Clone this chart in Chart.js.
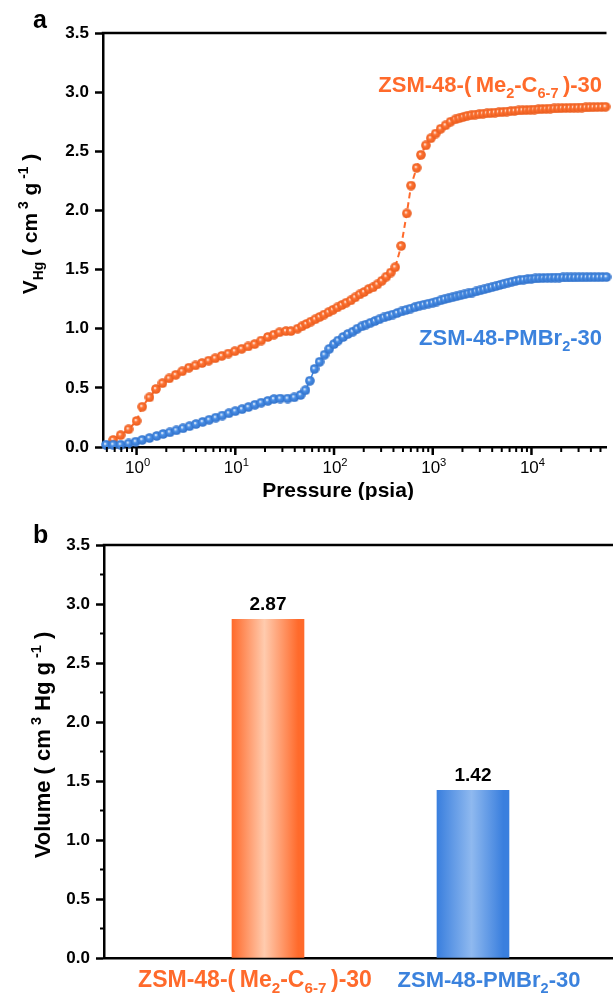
<!DOCTYPE html>
<html>
<head>
<meta charset="utf-8">
<title>Mercury intrusion</title>
<script src="https://cdn.jsdelivr.net/npm/chart.js@4.4.1/dist/chart.umd.min.js"></script>
<style>
  html, body { margin: 0; padding: 0; background: #fff; }
  #wrap { position: relative; width: 613px; height: 996px; overflow: hidden; }
  #chartA { position: absolute; left: 0; top: 0; }
  #chartB { position: absolute; left: 0; top: 500px; }
</style>
</head>
<body>
<div id="wrap">
  <canvas id="chartA" width="613" height="500"></canvas>
  <canvas id="chartB" width="613" height="496"></canvas>
</div>
<script>
// panel a - intrusion curves (pressure in psia, volume in cm3/g)
const orangeP = [0.58, 0.69, 0.83, 1.0, 1.14, 1.35, 1.57, 1.83, 2.14, 2.49,
  2.9, 3.39, 3.95, 4.6, 5.37, 6.26, 7.3, 8.5, 9.9,
  11.6, 13.5, 15.7, 18.3, 21.4, 24.6, 28, 32.6, 36.6,
  42.7, 47.3, 52.5, 58.2, 64.6, 71.6, 79.4, 88.1, 97.7, 108, 120, 133, 148, 164, 182, 202, 224, 248, 275, 305, 339, 376, 417,
  479, 546, 603, 687, 759, 851, 955, 1072, 1202, 1349, 1514, 1698,
  1862, 2042, 2239, 2455, 2692, 2951, 3236, 3548, 3890, 4266, 4677, 5129, 5623, 6166, 6761, 7413, 8128, 8913, 9772,
  10715, 11749, 12882, 14125, 15488, 16982, 18621, 20417, 22387, 24547, 26915, 29512, 32359, 35481, 38905, 42658, 46774, 51286, 56234];
const orangeV = [0.06, 0.10, 0.15, 0.22, 0.34, 0.42, 0.49, 0.54, 0.58, 0.61,
  0.64, 0.67, 0.69, 0.71, 0.73, 0.75, 0.77, 0.79, 0.81,
  0.83, 0.85, 0.87, 0.90, 0.93, 0.95, 0.97, 0.98, 0.98,
  1.00, 1.02, 1.04, 1.06, 1.08, 1.10, 1.12, 1.14, 1.16, 1.18, 1.20, 1.22, 1.24, 1.265, 1.29, 1.31, 1.335, 1.35, 1.375, 1.405, 1.44, 1.475, 1.52,
  1.70, 1.975, 2.21, 2.36, 2.47, 2.55, 2.61, 2.65, 2.69, 2.72, 2.75, 2.77,
  2.78, 2.79, 2.80, 2.805, 2.81, 2.814, 2.818, 2.821, 2.824, 2.827, 2.83, 2.833, 2.836, 2.839, 2.842, 2.845, 2.847, 2.849, 2.851,
  2.853, 2.855, 2.857, 2.859, 2.861, 2.862, 2.863, 2.865, 2.866, 2.867, 2.868, 2.869, 2.87, 2.871, 2.872, 2.873, 2.874, 2.875, 2.876];

const blueP = [0.49, 0.58, 0.69, 0.83, 0.98, 1.14, 1.35, 1.6, 1.86, 2.17, 2.53,
  2.95, 3.44, 4.0, 4.67, 5.44, 6.34, 7.38, 8.6, 10.0, 11.7, 13.6, 15.8, 18.3,
  21.4, 24.6, 28.5, 33.9, 39.5,
  45.9, 51.4, 56.9, 63.5, 71.4, 80.1, 89.5, 100, 110, 124, 138, 155,
  172, 191, 211, 234, 260, 288, 320, 355, 394, 437, 484, 537, 596, 661, 733, 813, 902, 1000,
  1096, 1202, 1318, 1445, 1585, 1738, 1905, 2089, 2291, 2512, 2754, 3020, 3311, 3631, 3981,
  4365, 4786, 5248, 5754, 6310, 6918, 7586, 8318, 9120, 10000,
  10965, 12023, 13183, 14454, 15849, 17378, 19055, 20893, 22909, 25119,
  27542, 30200, 33113, 36308, 39811, 43652, 47863, 52481, 57544];
const blueV = [0.02, 0.02, 0.02, 0.03, 0.045, 0.06, 0.076, 0.093, 0.11, 0.124, 0.141,
  0.158, 0.176, 0.194, 0.212, 0.23, 0.248, 0.266, 0.285, 0.303, 0.32, 0.338, 0.357, 0.375,
  0.39, 0.405, 0.41, 0.41, 0.42,
  0.44, 0.48, 0.56, 0.66, 0.72, 0.78, 0.83, 0.87, 0.90, 0.93, 0.955, 0.975,
  1.00, 1.02, 1.035, 1.05, 1.065, 1.08, 1.095, 1.108, 1.12, 1.133, 1.146, 1.158, 1.17, 1.182, 1.194, 1.203, 1.212, 1.22,
  1.23, 1.24, 1.25, 1.258, 1.266, 1.274, 1.282, 1.29, 1.298, 1.306, 1.315, 1.324, 1.333, 1.342, 1.351,
  1.36, 1.37, 1.38, 1.389, 1.397, 1.404, 1.41, 1.415, 1.419, 1.422,
  1.425, 1.427, 1.429, 1.43, 1.431, 1.432, 1.432, 1.433, 1.433, 1.434,
  1.434, 1.435, 1.435, 1.435, 1.436, 1.436, 1.436, 1.437, 1.437];

// panel b - total intruded volume
const barNames = ['ZSM-48-(Me2-C6-7)-30', 'ZSM-48-PMBr2-30'];
const barPos = [1, 2];
const barValues = [2.87, 1.42];
const yTicks = [0, 0.5, 1.0, 1.5, 2.0, 2.5, 3.0, 3.5];

const ORANGE = '#ff6a2b';
const BLUE = '#3b82dd';
const FONT = '"Liberation Sans", Arial, Helvetica, sans-serif';

// rich text pieces: 0 normal, 1 subscript, 2 superscript
const orangeRich = [['ZSM-48-(\u2009Me', 0], ['2', 1], ['-C', 0], ['6-7', 1], ['\u2009)-30', 0]];
const blueRich = [['ZSM-48-PMBr', 0], ['2', 1], ['-30', 0]];

function setFont(ctx, size, weight) {
    ctx.font = weight + ' ' + size + 'px ' + FONT;
}

function drawRich(ctx, parts, x, y, size, color, align, weight) {
    weight = weight || 'bold';
    const small = size * 0.66;
    let total = 0;
    const widths = parts.map(p => {
        setFont(ctx, p[1] ? small : size, weight);
        const w = ctx.measureText(p[0]).width;
        total += w;
        return w;
    });
    let cx = x;
    if (align === 'right') cx = x - total;
    else if (align === 'center') cx = x - total / 2;
    ctx.fillStyle = color;
    ctx.textAlign = 'left';
    ctx.textBaseline = 'alphabetic';
    parts.forEach((p, i) => {
        setFont(ctx, p[1] ? small : size, weight);
        const dy = p[1] === 1 ? size * 0.28 : (p[1] === 2 ? -size * 0.42 : 0);
        ctx.fillText(p[0], cx, y + dy);
        cx += widths[i];
    });
}

function drawRotated(ctx, parts, x, y, size) {
    ctx.save();
    ctx.translate(x, y);
    ctx.rotate(-Math.PI / 2);
    drawRich(ctx, parts, 0, 0, size, '#000', 'center');
    ctx.restore();
}

function makeBall(base, dark) {
    const c = document.createElement('canvas');
    c.width = 10;
    c.height = 10;
    const g = c.getContext('2d');
    const grad = g.createRadialGradient(3.9, 3.9, 0.2, 5, 5, 5);
    grad.addColorStop(0, '#ffffff');
    grad.addColorStop(0.32, base);
    grad.addColorStop(1, dark);
    g.fillStyle = grad;
    g.beginPath();
    g.arc(5, 5, 4.8, 0, Math.PI * 2);
    g.fill();
    return c;
}

function topBorder(chart) {
    const a = chart.chartArea;
    const ctx = chart.ctx;
    ctx.save();
    ctx.strokeStyle = '#000';
    ctx.lineWidth = 2.5;
    ctx.beginPath();
    ctx.moveTo(a.left - 1.25, a.top);
    ctx.lineTo(a.right, a.top);
    ctx.stroke();
    ctx.restore();
}

const axisY = {
    min: 0,
    max: 3.5,
    afterBuildTicks: s => { s.ticks = yTicks.map(v => ({ value: v })); },
    ticks: {
        callback: v => Number(v).toFixed(1),
        color: '#000',
        font: { family: FONT, size: 17, weight: 'bold' },
        padding: 6
    },
    grid: { drawOnChartArea: false, tickLength: 8, tickWidth: 2.5, tickColor: '#000' },
    border: { display: true, color: '#000', width: 2.5 }
};

const panelA = {
    id: 'panelA',
    afterDraw(chart) {
        const ctx = chart.ctx;
        const a = chart.chartArea;
        const xs = chart.scales.x;
        topBorder(chart);

        // log ticks, major at every decade
        ctx.save();
        ctx.strokeStyle = '#000';
        for (let n = -1; n <= 4; n++) {
            for (let m = 1; m <= 9; m++) {
                const v = m * Math.pow(10, n);
                if (v < xs.min || v > xs.max) continue;
                const px = xs.getPixelForValue(v);
                ctx.lineWidth = m === 1 ? 2.5 : 2;
                ctx.beginPath();
                ctx.moveTo(px, a.bottom);
                ctx.lineTo(px, a.bottom + (m === 1 ? 8 : 5));
                ctx.stroke();
            }
            if (Math.pow(10, n) >= xs.min) {
                drawRich(ctx, [['10', 0], [String(n), 2]], xs.getPixelForValue(Math.pow(10, n)) + 1, a.bottom + 26, 17, '#000', 'center', 'normal');
            }
        }
        ctx.restore();

        setFont(ctx, 21, 'bold');
        ctx.fillStyle = '#000';
        ctx.textAlign = 'center';
        ctx.fillText('Pressure (psia)', 338, 497);

        drawRotated(ctx, [['V', 0], ['Hg', 1], [' ( cm', 0], [' 3', 2], [' g', 0], [' -1', 2], [' )', 0]], 37, 224, 21);

        setFont(ctx, 25, 'bold');
        ctx.textAlign = 'left';
        ctx.fillStyle = '#000';
        ctx.fillText('a', 33, 28);

        drawRich(ctx, orangeRich, 602, 92, 22, ORANGE, 'right');
        drawRich(ctx, blueRich, 602, 345, 22, BLUE, 'right');
    }
};

const panelB = {
    id: 'panelB',
    afterDraw(chart) {
        const ctx = chart.ctx;
        const a = chart.chartArea;
        const ys = chart.scales.y;
        topBorder(chart);

        // minor ticks between the labelled ones
        ctx.save();
        ctx.strokeStyle = '#000';
        ctx.lineWidth = 2;
        for (let i = 0; i < yTicks.length - 1; i++) {
            const py = ys.getPixelForValue((yTicks[i] + yTicks[i + 1]) / 2);
            ctx.beginPath();
            ctx.moveTo(a.left, py);
            ctx.lineTo(a.left - 4, py);
            ctx.stroke();
        }
        ctx.restore();

        const meta = chart.getDatasetMeta(0);
        meta.data.forEach((bar, i) => {
            setFont(ctx, 19, 'bold');
            ctx.fillStyle = '#000';
            ctx.textAlign = 'center';
            ctx.fillText(barValues[i].toFixed(2), bar.x, bar.y - 9);
        });
        drawRich(ctx, orangeRich, meta.data[0].x - 13, 487, 23, ORANGE, 'center');
        drawRich(ctx, blueRich, meta.data[1].x + 16, 487, 22, BLUE, 'center');

        drawRotated(ctx, [['Volume ( cm', 0], [' 3', 2], [' Hg g', 0], [' -1', 2], [' )', 0]], 50, 245, 22);

        setFont(ctx, 25, 'bold');
        ctx.textAlign = 'left';
        ctx.fillStyle = '#000';
        ctx.fillText('b', 33, 43);
    }
};

function barFill(context) {
    const i = context.dataIndex;
    const base = i === 0 ? ORANGE : BLUE;
    const chart = context.chart;
    if (i === undefined || !chart.chartArea) return base;
    const cx = chart.scales.x.getPixelForValue(barPos[i]);
    const g = chart.ctx.createLinearGradient(cx - 36, 0, cx + 36, 0);
    if (i === 0) {
        g.addColorStop(0, '#ff6a2b');
        g.addColorStop(0.45, '#ffcbae');
        g.addColorStop(0.92, '#ff6a2b');
        g.addColorStop(1, '#ff6a2b');
    } else {
        g.addColorStop(0, '#3a7fde');
        g.addColorStop(0.48, '#8fb9ef');
        g.addColorStop(0.92, '#3a7fde');
        g.addColorStop(1, '#3a7fde');
    }
    return g;
}

new Chart(document.getElementById('chartA'), {
    type: 'scatter',
    data: {
        datasets: [
            {
                label: 'ZSM-48-PMBr2-30',
                data: blueP.map((p, i) => ({ x: p, y: blueV[i] })),
                showLine: true,
                borderColor: BLUE,
                borderWidth: 1.5,
                pointStyle: makeBall('#4a8fe6', '#2f6fc8'),
                pointRadius: 4.5,
                clip: false
            },
            {
                label: 'ZSM-48-(Me2-C6-7)-30',
                data: orangeP.map((p, i) => ({ x: p, y: orangeV[i] })),
                showLine: true,
                borderColor: ORANGE,
                borderWidth: 2,
                borderDash: [6, 4],
                pointStyle: makeBall('#ff7434', '#e85a1c'),
                pointRadius: 4.5,
                clip: false
            }
        ]
    },
    options: {
        responsive: false,
        animation: false,
        devicePixelRatio: 1,
        layout: { padding: { top: 33, right: 0, left: 0, bottom: 0 } },
        plugins: { legend: { display: false }, tooltip: { enabled: false } },
        scales: {
            x: {
                type: 'logarithmic',
                min: 0.457,
                max: 57544,
                ticks: { display: false },
                grid: { display: false },
                border: { display: true, color: '#000', width: 2.5 },
                afterFit: s => { s.height = 53; }
            },
            y: Object.assign({}, axisY, { afterFit: s => { s.width = 103; } })
        }
    },
    plugins: [panelA]
});

new Chart(document.getElementById('chartB'), {
    type: 'bar',
    data: {
        datasets: [{
            label: 'Volume',
            data: barPos.map((x, i) => ({ x: x, y: barValues[i] })),
            backgroundColor: barFill,
            borderWidth: 0,
            barThickness: 72
        }]
    },
    options: {
        responsive: false,
        animation: false,
        devicePixelRatio: 1,
        layout: { padding: { top: 45, right: 0, left: 0, bottom: 0 } },
        plugins: { legend: { display: false }, tooltip: { enabled: false } },
        scales: {
            x: {
                type: 'linear',
                offset: false,
                min: 0.2,
                max: 2.683,
                ticks: { display: false },
                grid: { display: false, offset: false },
                border: { display: true, color: '#000', width: 2.5 },
                afterFit: s => { s.height = 38; }
            },
            y: Object.assign({}, axisY, { afterFit: s => { s.width = 104; } })
        }
    },
    plugins: [panelB]
});
</script>
</body>
</html>
